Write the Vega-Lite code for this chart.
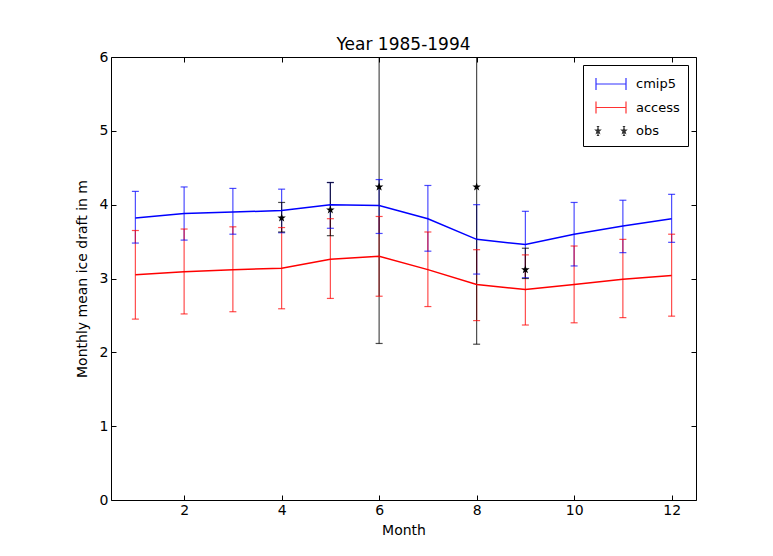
{
  "$schema": "https://vega.github.io/schema/vega-lite/v6.json",
  "width": 585,
  "height": 443,
  "autosize": {"type": "none"},
  "padding": {"left": 111, "top": 57, "right": 77, "bottom": 56},
  "background": "white",
  "title": {"text": "Year 1985-1994", "font": "DejaVu Sans", "fontSize": 17, "fontWeight": "normal", "color": "black", "offset": -4},
  "data": {"values": [
    {"month": 1, "series": "cmip5", "mean": 3.82, "lo": 3.48, "hi": 4.18},
    {"month": 2, "series": "cmip5", "mean": 3.88, "lo": 3.52, "hi": 4.24},
    {"month": 3, "series": "cmip5", "mean": 3.90, "lo": 3.60, "hi": 4.22},
    {"month": 4, "series": "cmip5", "mean": 3.92, "lo": 3.62, "hi": 4.21},
    {"month": 5, "series": "cmip5", "mean": 4.00, "lo": 3.68, "hi": 4.30},
    {"month": 6, "series": "cmip5", "mean": 3.99, "lo": 3.61, "hi": 4.34},
    {"month": 7, "series": "cmip5", "mean": 3.81, "lo": 3.37, "hi": 4.26},
    {"month": 8, "series": "cmip5", "mean": 3.53, "lo": 3.06, "hi": 4.00},
    {"month": 9, "series": "cmip5", "mean": 3.46, "lo": 3.01, "hi": 3.91},
    {"month": 10, "series": "cmip5", "mean": 3.60, "lo": 3.17, "hi": 4.03},
    {"month": 11, "series": "cmip5", "mean": 3.71, "lo": 3.35, "hi": 4.06},
    {"month": 12, "series": "cmip5", "mean": 3.81, "lo": 3.49, "hi": 4.14},
    {"month": 1, "series": "access", "mean": 3.05, "lo": 2.45, "hi": 3.65},
    {"month": 2, "series": "access", "mean": 3.09, "lo": 2.52, "hi": 3.67},
    {"month": 3, "series": "access", "mean": 3.12, "lo": 2.55, "hi": 3.70},
    {"month": 4, "series": "access", "mean": 3.14, "lo": 2.59, "hi": 3.69},
    {"month": 5, "series": "access", "mean": 3.26, "lo": 2.73, "hi": 3.81},
    {"month": 6, "series": "access", "mean": 3.30, "lo": 2.76, "hi": 3.84},
    {"month": 7, "series": "access", "mean": 3.12, "lo": 2.62, "hi": 3.63},
    {"month": 8, "series": "access", "mean": 2.92, "lo": 2.43, "hi": 3.39},
    {"month": 9, "series": "access", "mean": 2.85, "lo": 2.37, "hi": 3.32},
    {"month": 10, "series": "access", "mean": 2.92, "lo": 2.40, "hi": 3.44},
    {"month": 11, "series": "access", "mean": 2.99, "lo": 2.47, "hi": 3.53},
    {"month": 12, "series": "access", "mean": 3.04, "lo": 2.49, "hi": 3.60},
    {"month": 4, "series": "obs", "mean": 3.82, "lo": 3.63, "hi": 4.03},
    {"month": 5, "series": "obs", "mean": 3.93, "lo": 3.58, "hi": 4.30},
    {"month": 6, "series": "obs", "mean": 4.24, "lo": 2.12, "hi": 6.36},
    {"month": 8, "series": "obs", "mean": 4.24, "lo": 2.11, "hi": 6.37},
    {"month": 9, "series": "obs", "mean": 3.12, "lo": 3.00, "hi": 3.41}
  ]},
  "layer": [
    {
      "mark": {"type": "rule", "clip": true, "strokeWidth": 1.2, "opacity": 0.7},
      "encoding": {
        "x": {"field": "month", "type": "quantitative", "scale": {"domain": [0.5, 12.5], "nice": false, "zero": false}, "axis": {"values": [2, 4, 6, 8, 10, 12], "title": "Month", "labelPadding": 8, "titlePadding": 6}},
        "y": {"field": "lo", "type": "quantitative", "scale": {"domain": [0, 6], "nice": false}, "axis": {"values": [0, 1, 2, 3, 4, 5, 6], "title": "Monthly mean ice draft in m", "labelPadding": 8, "titlePadding": 10}},
        "y2": {"field": "hi"},
        "color": {"field": "series", "type": "nominal", "scale": {"domain": ["cmip5", "access", "obs"], "range": ["#0000ff", "#ff0000", "#000000"]}}
      }
    },
    {
      "mark": {"type": "tick", "orient": "horizontal", "size": 7, "thickness": 1.2, "opacity": 0.7, "clip": true},
      "encoding": {
        "x": {"field": "month", "type": "quantitative", "axis": null},
        "y": {"field": "lo", "type": "quantitative", "axis": null},
        "color": {"field": "series", "type": "nominal"}
      }
    },
    {
      "mark": {"type": "tick", "orient": "horizontal", "size": 7, "thickness": 1.2, "opacity": 0.7, "clip": true},
      "encoding": {
        "x": {"field": "month", "type": "quantitative", "axis": null},
        "y": {"field": "hi", "type": "quantitative", "axis": null},
        "color": {"field": "series", "type": "nominal"}
      }
    },
    {
      "transform": [{"filter": "datum.series !== 'obs'"}],
      "mark": {"type": "line", "strokeWidth": 1.5},
      "encoding": {
        "x": {"field": "month", "type": "quantitative", "axis": null},
        "y": {"field": "mean", "type": "quantitative", "axis": null},
        "color": {"field": "series", "type": "nominal"}
      }
    },
    {
      "transform": [{"filter": "datum.series === 'obs'"}],
      "mark": {"type": "point", "filled": true, "opacity": 1, "size": 80, "shape": "M0,-1L0.235,-0.324L0.951,-0.309L0.38,0.124L0.588,0.809L0,0.4L-0.588,0.809L-0.38,0.124L-0.951,-0.309L-0.235,-0.324Z"},
      "encoding": {
        "x": {"field": "month", "type": "quantitative", "axis": null},
        "y": {"field": "mean", "type": "quantitative", "axis": null},
        "color": {"field": "series", "type": "nominal"}
      }
    },
    {
      "mark": {"type": "point", "filled": false, "strokeWidth": 1.2, "size": 0},
      "encoding": {
        "x": {"field": "month", "type": "quantitative", "axis": null},
        "y": {"field": "mean", "type": "quantitative", "axis": null},
        "color": {"field": "series", "type": "nominal"},
        "shape": {
          "field": "series", "type": "nominal",
          "scale": {"domain": ["cmip5", "access", "obs"], "range": [
            "M-1.5,-0.6L-1.5,0.6M-1.5,0L1.5,0M1.5,-0.6L1.5,0.6",
            "M-1.5,-0.6L-1.5,0.6M-1.5,0L1.5,0M1.5,-0.6L1.5,0.6",
            "M-1.3,-0.45L-1.3,0.45M-1.42,-0.45L-1.18,-0.45M-1.42,0.45L-1.18,0.45M1.3,-0.45L1.3,0.45M1.18,-0.45L1.42,-0.45M1.18,0.45L1.42,0.45M-1.3,-0.25L-1.25,-0.1L-1.07,-0.09L-1.21,0.03L-1.16,0.2L-1.3,0.1L-1.44,0.2L-1.39,0.03L-1.53,-0.09L-1.35,-0.1ZM1.3,-0.25L1.35,-0.1L1.53,-0.09L1.39,0.03L1.44,0.2L1.3,0.1L1.16,0.2L1.21,0.03L1.07,-0.09L1.25,-0.1Z"
          ]}
        }
      }
    },
    {
      "mark": {"type": "rule", "opacity": 0},
      "encoding": {
        "x": {"field": "month", "type": "quantitative", "axis": {"orient": "top", "values": [2, 4, 6, 8, 10, 12], "labels": false, "title": null}},
        "y": {"field": "mean", "type": "quantitative", "axis": {"orient": "right", "values": [0, 1, 2, 3, 4, 5, 6], "labels": false, "title": null}}
      }
    }
  ],
  "config": {
    "font": "DejaVu Sans",
    "view": {"stroke": "black", "strokeWidth": 1},
    "axis": {"grid": false, "domain": false, "tickColor": "black", "labelColor": "black", "titleColor": "black", "labelFont": "DejaVu Sans", "titleFont": "DejaVu Sans", "labelFontSize": 14, "titleFontSize": 14, "titleFontWeight": "normal", "tickSize": -5},
    "legend": {
      "title": null, "orient": "top-right", "offset": 8,
      "strokeColor": "black", "fillColor": "white", "padding": 8,
      "symbolSize": 400, "symbolOffset": 9, "rowPadding": 3.5,
      "symbolStrokeWidth": 1.2, "symbolOpacity": 0.8,
      "labelFontSize": 13, "labelFont": "DejaVu Sans", "labelColor": "black", "labelOffset": 14,
      "cornerRadius": 0
    }
  },
  "resolve": {"axis": {"x": "independent", "y": "independent"}}
}
